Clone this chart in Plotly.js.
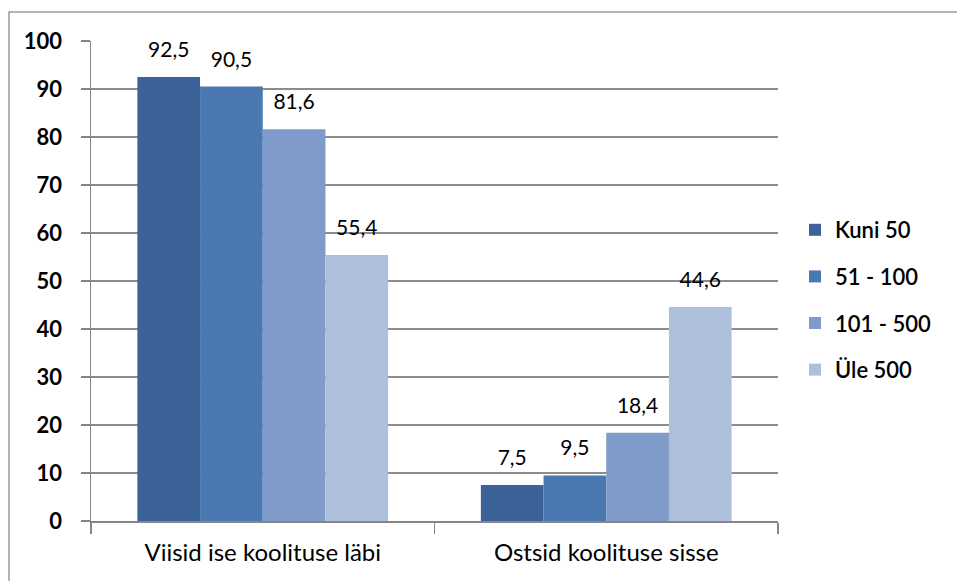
<!DOCTYPE html>
<html>
<head>
<meta charset="utf-8">
<script src="https://cdn.plot.ly/plotly-3.0.1.min.js"></script>
<style>html,body{margin:0;padding:0;background:#fff;}#chart{width:957px;height:581px;}</style>
</head>
<body>
<div id="chart"></div>
<script>
const categories = ["Viisid ise koolituse läbi", "Ostsid koolituse sisse"];
const seriesNames = ["Kuni 50", "51 - 100", "101 - 500", "Üle 500"];
const kuni50 = [92.5, 7.5];
const s51_100 = [90.5, 9.5];
const s101_500 = [81.6, 18.4];
const ule500 = [55.4, 44.6];
const yTicks = [0, 10, 20, 30, 40, 50, 60, 70, 80, 90, 100];

const seriesValues = [kuni50, s51_100, s101_500, ule500];
const colors = ["#3B6397", "#4A78B1", "#7E9BC9", "#AEBFDC"];
const FONT = "Lato, 'DejaVu Sans', sans-serif";
const fmt = v => v.toFixed(1).replace(".", ",");

const traces = [];
seriesValues.forEach((vals, i) => {
  traces.push({
    type: "bar",
    name: seriesNames[i],
    x: categories,
    y: vals,
    marker: {color: colors[i], line: {width: 0}},
    offsetgroup: "g" + i,
    legendgroup: "g" + i,
    hoverinfo: "skip"
  });
});
seriesValues.forEach((vals, i) => {
  traces.push({
    type: "scatter",
    mode: "markers+text",
    x: categories,
    y: vals,
    text: vals.map(fmt),
    textposition: "top center",
    textfont: {family: FONT, size: 21, color: "#000"},
    marker: {size: 22, color: "rgba(0,0,0,0)"},
    offsetgroup: "g" + i,
    showlegend: false,
    cliponaxis: false,
    hoverinfo: "skip"
  });
});

const L = 91, R = 778, T = 41, B = 521, W = 957, H = 581;
const pw = R - L, ph = B - T;
const px = v => (v - L) / pw;
const py = v => (B - v) / ph;

const layout = {
  width: W, height: H,
  margin: {l: L, r: W - R, t: T, b: H - B, pad: 0},
  paper_bgcolor: "#fff",
  plot_bgcolor: "#fff",
  barmode: "group",
  scattermode: "group",
  bargap: 0.27,
  bargroupgap: 0,
  scattergap: 0.27,
  showlegend: true,
  legend: {
    x: px(795), y: py(209), xanchor: "left", yanchor: "top",
    font: {family: FONT, size: 22, color: "#000", weight: 600},
    tracegroupgap: 15,
    itemwidth: 30,
    bgcolor: "rgba(0,0,0,0)"
  },
  xaxis: {
    type: "category",
    showgrid: false,
    showline: true, linecolor: "#868686", linewidth: 1.5,
    ticks: "outside", tickson: "boundaries", ticklen: 11, tickcolor: "#868686", tickwidth: 1.5,
    ticklabelstandoff: 10,
    tickfont: {family: FONT, size: 24, color: "#000"},
    zeroline: false,
    fixedrange: true
  },
  yaxis: {
    range: [0, 100],
    tickvals: yTicks,
    ticktext: yTicks.map(String),
    showgrid: true, gridcolor: "#8C8C8C", gridwidth: 1.2,
    showline: true, linecolor: "#868686", linewidth: 1.5,
    ticks: "outside", ticklen: 9, tickcolor: "#868686", tickwidth: 1.5,
    ticklabelstandoff: 14,
    tickfont: {family: FONT, size: 22, color: "#000", weight: "bold"},
    zeroline: false,
    fixedrange: true
  },
  shapes: [{
    type: "path", xref: "paper", yref: "paper",
    path: `M ${px(9)} ${py(H + 5)} L ${px(9)} ${py(12)} L ${px(W + 5)} ${py(12)}`,
    line: {color: "#9A9A9A", width: 1.5}
  }]
};

Plotly.newPlot("chart", traces, layout, {displayModeBar: false, staticPlot: true});
</script>
</body>
</html>
